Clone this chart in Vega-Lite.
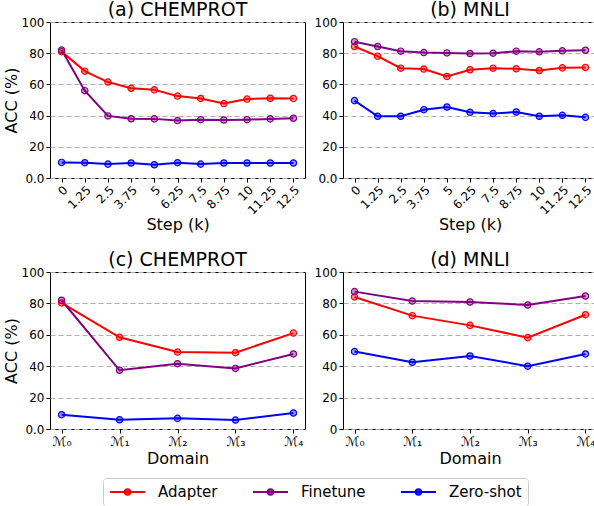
{
  "$schema": "https://vega.github.io/schema/vega-lite/v6.json",
  "padding": {"left": 2, "top": 0, "right": 0, "bottom": 0},
  "background": "white",
  "datasets": {
    "a": [
      {"x": "0", "m": "Adapter", "v": 81}, {"x": "1.25", "m": "Adapter", "v": 68.5}, {"x": "2.5", "m": "Adapter", "v": 61.5}, {"x": "3.75", "m": "Adapter", "v": 57.5}, {"x": "5", "m": "Adapter", "v": 56.5}, {"x": "6.25", "m": "Adapter", "v": 52.5}, {"x": "7.5", "m": "Adapter", "v": 51}, {"x": "8.75", "m": "Adapter", "v": 47.7}, {"x": "10", "m": "Adapter", "v": 50.6}, {"x": "11.25", "m": "Adapter", "v": 51.1}, {"x": "12.5", "m": "Adapter", "v": 51},
      {"x": "0", "m": "Finetune", "v": 82}, {"x": "1.25", "m": "Finetune", "v": 56}, {"x": "2.5", "m": "Finetune", "v": 39.8}, {"x": "3.75", "m": "Finetune", "v": 38}, {"x": "5", "m": "Finetune", "v": 37.9}, {"x": "6.25", "m": "Finetune", "v": 36.8}, {"x": "7.5", "m": "Finetune", "v": 37.4}, {"x": "8.75", "m": "Finetune", "v": 37.2}, {"x": "10", "m": "Finetune", "v": 37.4}, {"x": "11.25", "m": "Finetune", "v": 37.9}, {"x": "12.5", "m": "Finetune", "v": 38.3},
      {"x": "0", "m": "Zero-shot", "v": 10}, {"x": "1.25", "m": "Zero-shot", "v": 9.8}, {"x": "2.5", "m": "Zero-shot", "v": 8.9}, {"x": "3.75", "m": "Zero-shot", "v": 9.6}, {"x": "5", "m": "Zero-shot", "v": 8.5}, {"x": "6.25", "m": "Zero-shot", "v": 9.8}, {"x": "7.5", "m": "Zero-shot", "v": 8.9}, {"x": "8.75", "m": "Zero-shot", "v": 9.6}, {"x": "10", "m": "Zero-shot", "v": 9.6}, {"x": "11.25", "m": "Zero-shot", "v": 9.6}, {"x": "12.5", "m": "Zero-shot", "v": 9.6}
    ],
    "b": [
      {"x": "0", "m": "Adapter", "v": 84.3}, {"x": "1.25", "m": "Adapter", "v": 78.1}, {"x": "2.5", "m": "Adapter", "v": 70.4}, {"x": "3.75", "m": "Adapter", "v": 69.8}, {"x": "5", "m": "Adapter", "v": 65.1}, {"x": "6.25", "m": "Adapter", "v": 69.4}, {"x": "7.5", "m": "Adapter", "v": 70.4}, {"x": "8.75", "m": "Adapter", "v": 70}, {"x": "10", "m": "Adapter", "v": 68.9}, {"x": "11.25", "m": "Adapter", "v": 70.6}, {"x": "12.5", "m": "Adapter", "v": 70.9},
      {"x": "0", "m": "Finetune", "v": 87.4}, {"x": "1.25", "m": "Finetune", "v": 84.3}, {"x": "2.5", "m": "Finetune", "v": 81.3}, {"x": "3.75", "m": "Finetune", "v": 80.4}, {"x": "5", "m": "Finetune", "v": 80.2}, {"x": "6.25", "m": "Finetune", "v": 79.8}, {"x": "7.5", "m": "Finetune", "v": 80}, {"x": "8.75", "m": "Finetune", "v": 81.3}, {"x": "10", "m": "Finetune", "v": 80.9}, {"x": "11.25", "m": "Finetune", "v": 81.5}, {"x": "12.5", "m": "Finetune", "v": 81.9},
      {"x": "0", "m": "Zero-shot", "v": 49.6}, {"x": "1.25", "m": "Zero-shot", "v": 39.6}, {"x": "2.5", "m": "Zero-shot", "v": 39.6}, {"x": "3.75", "m": "Zero-shot", "v": 43.8}, {"x": "5", "m": "Zero-shot", "v": 45.5}, {"x": "6.25", "m": "Zero-shot", "v": 42.1}, {"x": "7.5", "m": "Zero-shot", "v": 41.3}, {"x": "8.75", "m": "Zero-shot", "v": 42.3}, {"x": "10", "m": "Zero-shot", "v": 39.6}, {"x": "11.25", "m": "Zero-shot", "v": 40.2}, {"x": "12.5", "m": "Zero-shot", "v": 38.9}
    ],
    "c": [
      {"x": "ℳ₀", "m": "Adapter", "v": 80.3}, {"x": "ℳ₁", "m": "Adapter", "v": 58.4}, {"x": "ℳ₂", "m": "Adapter", "v": 49}, {"x": "ℳ₃", "m": "Adapter", "v": 48.6}, {"x": "ℳ₄", "m": "Adapter", "v": 61.1},
      {"x": "ℳ₀", "m": "Finetune", "v": 82}, {"x": "ℳ₁", "m": "Finetune", "v": 37.4}, {"x": "ℳ₂", "m": "Finetune", "v": 41.6}, {"x": "ℳ₃", "m": "Finetune", "v": 38.6}, {"x": "ℳ₄", "m": "Finetune", "v": 47.8},
      {"x": "ℳ₀", "m": "Zero-shot", "v": 9.1}, {"x": "ℳ₁", "m": "Zero-shot", "v": 5.9}, {"x": "ℳ₂", "m": "Zero-shot", "v": 6.8}, {"x": "ℳ₃", "m": "Zero-shot", "v": 5.7}, {"x": "ℳ₄", "m": "Zero-shot", "v": 10.2}
    ],
    "d": [
      {"x": "ℳ₀", "m": "Adapter", "v": 84.1}, {"x": "ℳ₁", "m": "Adapter", "v": 72.2}, {"x": "ℳ₂", "m": "Adapter", "v": 66}, {"x": "ℳ₃", "m": "Adapter", "v": 58.2}, {"x": "ℳ₄", "m": "Adapter", "v": 72.8},
      {"x": "ℳ₀", "m": "Finetune", "v": 87.5}, {"x": "ℳ₁", "m": "Finetune", "v": 81.5}, {"x": "ℳ₂", "m": "Finetune", "v": 80.9}, {"x": "ℳ₃", "m": "Finetune", "v": 79}, {"x": "ℳ₄", "m": "Finetune", "v": 84.7},
      {"x": "ℳ₀", "m": "Zero-shot", "v": 49.3}, {"x": "ℳ₁", "m": "Zero-shot", "v": 42.5}, {"x": "ℳ₂", "m": "Zero-shot", "v": 46.5}, {"x": "ℳ₃", "m": "Zero-shot", "v": 40}, {"x": "ℳ₄", "m": "Zero-shot", "v": 47.8}
    ]
  },
  "columns": 2,
  "spacing": {"row": 94, "column": 38},
  "bounds": "flush",
  "concat": [
    {
      "title": "(a) CHEMPROT",
      "width": 255, "height": 156,
      "data": {"name": "a"},
      "encoding": {
        "x": {"field": "x", "type": "ordinal", "sort": ["0","1.25","2.5","3.75","5","6.25","7.5","8.75","10","11.25","12.5"], "scale": {"type": "point", "padding": 0.5}, "axis": {"title": "Step (k)", "labelAngle": -45}},
        "y": {"field": "v", "type": "quantitative", "scale": {"domain": [0, 100]}, "axis": {"title": "ACC (%)", "labelExpr": "datum.value == 0 ? '0.0' : datum.label"}},
        "color": {"field": "m", "type": "nominal", "scale": {"domain": ["Adapter","Finetune","Zero-shot"], "range": ["#ff0000","#800080","#0000ff"]},
          "legend": {"orient": "none", "legendX": 53, "legendY": 456, "direction": "horizontal", "title": null,
            "encode": {"symbols": {"update": {"stroke": {"scale": "color", "field": "value"}, "strokeWidth": {"value": 2}, "fill": {"scale": "color", "field": "value"}, "fillOpacity": {"value": 0.6}}}}}}
      },
      "layer": [
        {"mark": {"type": "line", "strokeWidth": 2}},
        {"mark": {"type": "point", "filled": true, "size": 40, "fillOpacity": 0.4, "strokeWidth": 1.2, "opacity": 1},
         "encoding": {"stroke": {"field": "m", "type": "nominal", "scale": {"domain": ["Adapter","Finetune","Zero-shot"], "range": ["#ff0000","#800080","#0000ff"]}, "legend": null}}}
      ]
    },
    {
      "title": "(b) MNLI",
      "width": 254, "height": 156,
      "data": {"name": "b"},
      "encoding": {
        "x": {"field": "x", "type": "ordinal", "sort": ["0","1.25","2.5","3.75","5","6.25","7.5","8.75","10","11.25","12.5"], "scale": {"type": "point", "padding": 0.5}, "axis": {"title": "Step (k)", "labelAngle": -45}},
        "y": {"field": "v", "type": "quantitative", "scale": {"domain": [0, 100]}, "axis": {"title": null, "labelExpr": "datum.value == 0 ? '0.0' : datum.label"}},
        "color": {"field": "m", "type": "nominal", "scale": {"domain": ["Adapter","Finetune","Zero-shot"], "range": ["#ff0000","#800080","#0000ff"]}}
      },
      "layer": [
        {"mark": {"type": "line", "strokeWidth": 2}},
        {"mark": {"type": "point", "filled": true, "size": 40, "fillOpacity": 0.4, "strokeWidth": 1.2, "opacity": 1},
         "encoding": {"stroke": {"field": "m", "type": "nominal", "scale": {"domain": ["Adapter","Finetune","Zero-shot"], "range": ["#ff0000","#800080","#0000ff"]}, "legend": null}}}
      ]
    },
    {
      "title": "(c) CHEMPROT",
      "width": 255, "height": 157,
      "data": {"name": "c"},
      "encoding": {
        "x": {"field": "x", "type": "ordinal", "sort": ["ℳ₀","ℳ₁","ℳ₂","ℳ₃","ℳ₄"], "scale": {"type": "point", "padding": 0.2}, "axis": {"title": "Domain", "labelAngle": 0, "labelFontSize": 13, "titlePadding": 2}},
        "y": {"field": "v", "type": "quantitative", "scale": {"domain": [0, 100]}, "axis": {"title": "ACC (%)", "labelExpr": "datum.value == 0 ? '0.0' : datum.label"}},
        "color": {"field": "m", "type": "nominal", "scale": {"domain": ["Adapter","Finetune","Zero-shot"], "range": ["#ff0000","#800080","#0000ff"]}}
      },
      "layer": [
        {"mark": {"type": "line", "strokeWidth": 2}},
        {"mark": {"type": "point", "filled": true, "size": 40, "fillOpacity": 0.4, "strokeWidth": 1.2, "opacity": 1},
         "encoding": {"stroke": {"field": "m", "type": "nominal", "scale": {"domain": ["Adapter","Finetune","Zero-shot"], "range": ["#ff0000","#800080","#0000ff"]}, "legend": null}}}
      ]
    },
    {
      "title": "(d) MNLI",
      "width": 254, "height": 157,
      "data": {"name": "d"},
      "encoding": {
        "x": {"field": "x", "type": "ordinal", "sort": ["ℳ₀","ℳ₁","ℳ₂","ℳ₃","ℳ₄"], "scale": {"type": "point", "padding": 0.2}, "axis": {"title": "Domain", "labelAngle": 0, "labelFontSize": 13, "titlePadding": 2}},
        "y": {"field": "v", "type": "quantitative", "scale": {"domain": [0, 100]}, "axis": {"title": null}},
        "color": {"field": "m", "type": "nominal", "scale": {"domain": ["Adapter","Finetune","Zero-shot"], "range": ["#ff0000","#800080","#0000ff"]}}
      },
      "layer": [
        {"mark": {"type": "line", "strokeWidth": 2}},
        {"mark": {"type": "point", "filled": true, "size": 40, "fillOpacity": 0.4, "strokeWidth": 1.2, "opacity": 1},
         "encoding": {"stroke": {"field": "m", "type": "nominal", "scale": {"domain": ["Adapter","Finetune","Zero-shot"], "range": ["#ff0000","#800080","#0000ff"]}, "legend": null}}}
      ]
    }
  ],
  "config": {
    "font": "DejaVu Sans",
    "view": {"stroke": "black", "strokeWidth": 1},
    "axis": {"labelFont": "DejaVu Sans", "labelFontSize": 12, "labelColor": "black", "titleFont": "DejaVu Sans", "titleFontSize": 16, "titleFontWeight": "normal", "titleColor": "black", "tickColor": "black", "tickSize": 4, "domain": false, "labelPadding": 2},
    "axisY": {"grid": true, "gridDash": [5, 3], "gridColor": "#b0b0b0", "gridWidth": 1, "values": [0, 20, 40, 60, 80, 100], "titlePadding": 2},
    "axisX": {"grid": false, "titlePadding": 0},
    "title": {"fontSize": 19, "fontWeight": "normal", "font": "DejaVu Sans", "offset": -4, "color": "black"},
    "legend": {
      "symbolType": "M-1,0L4,0M1.1,0A0.4,0.4,0,1,1,1.9,0A0.4,0.4,0,1,1,1.1,0Z",
      "symbolSize": 196,
      "symbolStrokeWidth": 2,
      "symbolOpacity": 1,
      "labelFontSize": 15,
      "labelFont": "DejaVu Sans",
      "labelColor": "black",
      "labelOffset": 33,
      "columnPadding": 31,
      "padding": 6,
      "strokeColor": "#cccccc",
      "cornerRadius": 3,
      "fillColor": "white"
    }
  }
}
